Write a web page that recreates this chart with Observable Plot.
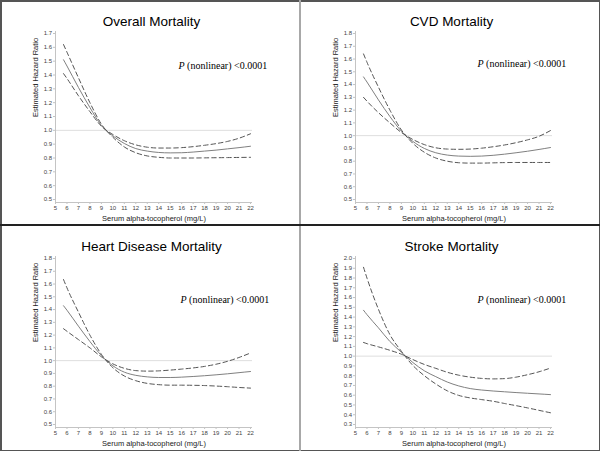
<!DOCTYPE html>
<html><head><meta charset="utf-8">
<script src="https://cdn.jsdelivr.net/npm/d3@7"></script>
<script src="https://cdn.jsdelivr.net/npm/@observablehq/plot@0.6"></script>
<style>
body{margin:0;background:#fff;}
#wrap{position:relative;width:600px;height:451px;overflow:hidden;background:#fff;}
.panel{position:absolute;width:300px;height:225px;}
.panel svg{display:block;}
.ln{position:absolute;}
</style></head><body><div id="wrap"></div>
<script>
const xs = [5.7,6,7,8,9,10,11,12,13,14,15,16,17,18,19,20,21,22];
const xTicks = [5,6,7,8,9,10,11,12,13,14,15,16,17,18,19,20,21,22];
const titles = ["Overall Mortality","CVD Mortality","Heart Disease Mortality","Stroke Mortality"];
const pLabel = "P (nonlinear) <0.0001";
const xLabel = "Serum alpha-tocopherol (mg/L)";
const yLabel = "Estimated Hazard Ratio";
const refValue = 1.0;

const yTicksOverall = [0.5,0.6,0.7,0.8,0.9,1.0,1.1,1.2,1.3,1.4,1.5,1.6,1.7];
const yTicksCVD = [0.5,0.6,0.7,0.8,0.9,1.0,1.1,1.2,1.3,1.4,1.5,1.6,1.7,1.8];
const yTicksHeart = [0.5,0.6,0.7,0.8,0.9,1.0,1.1,1.2,1.3,1.4,1.5,1.6,1.7,1.8];
const yTicksStroke = [0.3,0.4,0.5,0.6,0.7,0.8,0.9,1.0,1.1,1.2,1.3,1.4,1.5,1.6,1.7,1.8,1.9,2.0];

const overallHR = [1.51,1.465,1.31,1.165,1.035,0.96,0.905,0.868,0.85,0.84,0.837,0.838,0.843,0.85,0.857,0.866,0.875,0.885];
const overallA  = [1.62,1.565,1.38,1.2,1.045,0.95,0.88,0.838,0.815,0.805,0.8,0.8,0.8,0.801,0.802,0.803,0.804,0.805];
const overallB  = [1.41,1.375,1.25,1.135,1.03,0.97,0.925,0.895,0.878,0.872,0.872,0.875,0.882,0.892,0.904,0.92,0.943,0.975];

const cvdHR = [1.46,1.42,1.28,1.15,1.035,0.955,0.9,0.866,0.848,0.84,0.838,0.84,0.846,0.855,0.866,0.878,0.892,0.907];
const cvdA  = [1.64,1.575,1.38,1.2,1.045,0.94,0.87,0.825,0.8,0.788,0.785,0.785,0.787,0.789,0.79,0.79,0.79,0.79];
const cvdB  = [1.30,1.27,1.18,1.1,1.025,0.97,0.93,0.905,0.895,0.893,0.895,0.902,0.913,0.927,0.945,0.967,0.995,1.04];

const heartHR = [1.43,1.395,1.27,1.15,1.04,0.96,0.91,0.885,0.873,0.868,0.868,0.871,0.876,0.882,0.889,0.897,0.906,0.915];
const heartA  = [1.635,1.57,1.38,1.2,1.05,0.945,0.88,0.843,0.822,0.812,0.808,0.808,0.807,0.805,0.801,0.796,0.79,0.785];
const heartB  = [1.25,1.23,1.165,1.1,1.03,0.975,0.94,0.922,0.918,0.92,0.926,0.934,0.943,0.955,0.972,0.995,1.025,1.06];

const strokeHR = [1.47,1.425,1.29,1.15,1.04,0.935,0.85,0.79,0.735,0.695,0.668,0.653,0.643,0.635,0.627,0.62,0.613,0.606];
const strokeA  = [1.91,1.8,1.48,1.22,1.05,0.905,0.8,0.715,0.645,0.598,0.572,0.555,0.538,0.515,0.493,0.47,0.445,0.42];
const strokeB  = [1.14,1.128,1.095,1.06,1.02,0.965,0.915,0.875,0.835,0.805,0.785,0.772,0.767,0.77,0.785,0.81,0.84,0.878];

const panels = [
  {title: titles[0], ticks: yTicksOverall, hr: overallHR, a: overallA, b: overallB, left: 0, top: 0, pdx: 123, pdy: 30},
  {title: titles[1], ticks: yTicksCVD, hr: cvdHR, a: cvdA, b: cvdB, left: 300, top: 0, pdx: 122, pdy: 28},
  {title: titles[2], ticks: yTicksHeart, hr: heartHR, a: heartA, b: heartB, left: 0, top: 225, pdx: 125, pdy: 39.5},
  {title: titles[3], ticks: yTicksStroke, hr: strokeHR, a: strokeA, b: strokeB, left: 300, top: 225, pdx: 122, pdy: 39.5}
];

const wrap = document.getElementById("wrap");
const font = "'Liberation Sans', Arial, sans-serif";

for (const p of panels) {
  const rows = xs.map((x, i) => ({x, hr: p.hr[i], a: p.a[i], b: p.b[i]}));
  const ymin = p.ticks[0], ymax = p.ticks[p.ticks.length - 1];
  const chart = Plot.plot({
    width: 300, height: 225,
    marginLeft: 55, marginRight: 48, marginTop: 31, marginBottom: 23,
    x: {domain: [5, 22], insetRight: 2},
    y: {domain: [ymin, ymax], insetTop: 2, insetBottom: 3},
    style: {fontFamily: font, color: "#444", background: "transparent", overflow: "visible"},
    marks: [
      Plot.ruleY([refValue], {stroke: "#dedede", strokeWidth: 1}),
      Plot.ruleX([5], {stroke: "#c4c4c4", strokeWidth: 1}),
      Plot.ruleY([ymin], {dy: 3, stroke: "#c4c4c4", strokeWidth: 1}),
      Plot.axisY({ticks: p.ticks, tickSize: 2, tickPadding: 1.5, tickFormat: d => d.toFixed(1), fontSize: 6, stroke: "#c4c4c4", label: null}),
      Plot.axisX({ticks: xTicks, tickSize: 2, tickPadding: 1, tickFormat: d => String(d), fontSize: 6, stroke: "#c4c4c4", label: null}),
      Plot.line(rows, {x: "x", y: "hr", curve: "monotone-x", stroke: "#808080", strokeWidth: 1}),
      Plot.line(rows, {x: "x", y: "a", curve: "monotone-x", stroke: "#555", strokeWidth: 1, strokeDasharray: "4.5,3"}),
      Plot.line(rows, {x: "x", y: "b", curve: "monotone-x", stroke: "#555", strokeWidth: 1, strokeDasharray: "4.5,3"}),
      Plot.text([p.title], {frameAnchor: "top", dx: -2.5, dy: -15, fontSize: 13.5, fill: "#000"}),
      Plot.text([yLabel], {frameAnchor: "left", rotate: -90, dx: -20, fontSize: 7.5, fill: "#222"}),
      Plot.text([xLabel], {frameAnchor: "bottom", dy: 18, fontSize: 7.5, fill: "#222"}),
      Plot.text([pLabel], {frameAnchor: "top-left", textAnchor: "start", dx: p.pdx, dy: p.pdy, fontSize: 10, fill: "#000", fontFamily: "'Liberation Serif', 'Times New Roman', serif"})
    ]
  });
  d3.select(chart).selectAll("text").each(function() {
    if (this.textContent === pLabel) {
      const t = d3.select(this);
      t.text(null);
      t.append("tspan").attr("font-style", "italic").text("P");
      t.append("tspan").text(pLabel.slice(1));
    }
  });
  const div = document.createElement("div");
  div.className = "panel";
  div.style.left = p.left + "px";
  div.style.top = p.top + "px";
  div.appendChild(chart);
  wrap.appendChild(div);
}

function addLine(l, t, w, h, c) {
  const d = document.createElement("div");
  d.className = "ln";
  Object.assign(d.style, {left: l + "px", top: t + "px", width: w + "px", height: h + "px", background: c});
  wrap.appendChild(d);
}
addLine(0, 0, 600, 1.5, "#555");
addLine(0, 0, 1.5, 451, "#555");
addLine(598.5, 0, 1.5, 451, "#555");
addLine(0, 449.5, 600, 1.5, "#555");
addLine(299, 0, 2, 451, "#a8a8a8");
addLine(0, 224.3, 600, 1.8, "#222");
</script>
</body></html>
